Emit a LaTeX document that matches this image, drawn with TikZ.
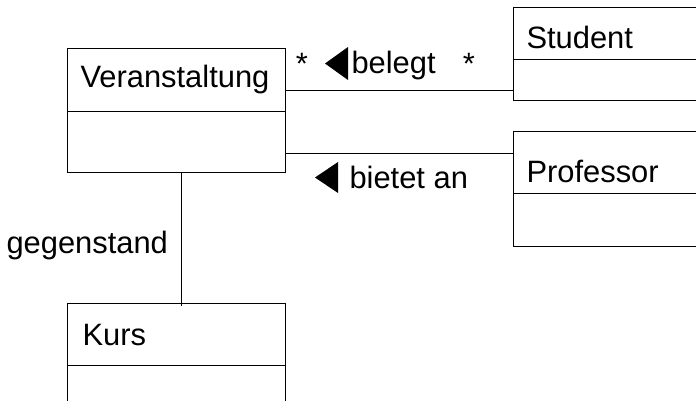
\documentclass[tikz,border=0pt]{standalone}
\usepackage{fontspec}
\setmainfont{Liberation Sans}
\begin{document}
\begin{tikzpicture}[x=1bp, y=-1bp, line width=1bp,
    every node/.style={inner sep=0pt, font=\fontsize{31}{37}\selectfont},
    klasse/.style={draw, rectangle, anchor=north west, inner xsep=13bp,
        minimum height=#1, align=left},
    klasse/.default=63bp]
            \clip (0, 0) rectangle (696, 400);

            % Nodes
            \node[klasse, text width=192bp, text height=21bp] at (67, 48) (vname) {Veranstaltung};
            \node[klasse=61bp, minimum width=218bp] at (67, 111) (vattr) {};
            \node[klasse=52bp, text width=224bp, text height=30bp] at (513, 7) (sname) {Student};
            \node[klasse=41bp, minimum width=250bp] at (513, 59) (sattr) {};
            \node[klasse=62bp, text width=224bp, text height=40bp] at (513, 131) (pname) {Professor};
            \node[klasse=53bp, minimum width=250bp] at (513, 193) (pattr) {};
            \node[klasse=62bp, text width=188bp, text height=22bp, inner xsep=15bp] at (67, 303) (kname) {Kurs};
            \node[klasse=62bp, minimum width=218bp] at (67, 365) (kattr) {};

            % Edges
            \coordinate (belegt-y) at (0, 90);
            \coordinate (bietet-y) at (0, 153);
            \coordinate (gegen-x) at (181, 0);
            \draw (vname.east |- belegt-y) -- (sattr.west |- belegt-y);
            \draw (vattr.east |- bietet-y) -- (pname.west |- bietet-y);
            \draw (vattr.south -| gegen-x) -- ([yshift=-3bp]kname.north -| gegen-x);

            % Labels
            \node[anchor=base] at (302, 74) (mult1) {*};
            \node[anchor=base] at (469, 74) (mult2) {*};
            \node[anchor=base west] at (351, 73) (belegt) {belegt};
            \node[anchor=base west] at (349, 188) (bietet) {bietet an};
            \node[anchor=base west] at (6, 253) (gegen) {gegenstand};
            \fill (348, 47) -- (348, 80) -- (325, 63.5) -- cycle;
            \fill (338, 162) -- (338, 193) -- (315, 177.5) -- cycle;
        \end{tikzpicture}
\end{document}
